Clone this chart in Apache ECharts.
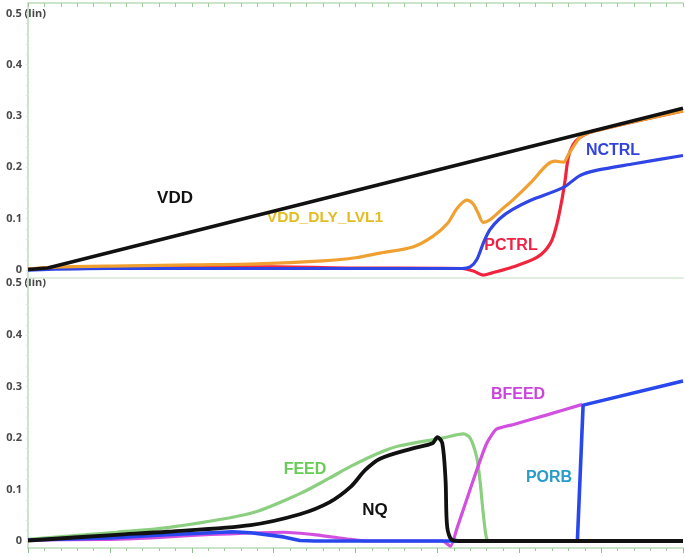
<!DOCTYPE html>
<html>
<head>
<meta charset="utf-8">
<script src="https://cdn.jsdelivr.net/npm/echarts@6/dist/echarts.min.js"></script>
<style>html,body{margin:0;padding:0;background:#fff;}#c{width:685px;height:557px;}</style>
</head>
<body>
<div id="c"></div>
<script>
// ---- data (x in time units 0..40, y in volts) ----
const yTickValues = [0, 0.1, 0.2, 0.3, 0.4, 0.5];
const yMinorTickValues = [0,0.02,0.04,0.06,0.08,0.1,0.12,0.14,0.16,0.18,0.2,0.22,0.24,0.26,0.28,0.3,0.32,0.34,0.36,0.38,0.4,0.42,0.44,0.46,0.48,0.5];

// top panel
const vdd = [[0,0.001],[1.2,0.004],[40,0.315]];
const vddDlyLvl1 = [[0,0.002],[2,0.006],[6,0.008],[10,0.01],[14,0.012],[18,0.018],[20,0.024],[21.5,0.033],[23.5,0.045],[24.7,0.065],[25.6,0.09],[26.2,0.12],[26.8,0.136],[27.2,0.128],[27.5,0.11],[27.8,0.093],[28.3,0.1],[29.0,0.12],[29.6,0.136],[30.7,0.17],[31.7,0.205],[32.2,0.212],[32.7,0.21],[33.0,0.225],[33.3,0.24],[33.7,0.258],[34.2,0.267],[35,0.274],[37,0.289],[40,0.31]];
const nctrl = [[0,0.0],[5,0.003],[20,0.003],[26.5,0.003],[27,0.006],[27.4,0.02],[27.8,0.052],[28.2,0.078],[28.8,0.1],[29.6,0.118],[30.7,0.136],[32.7,0.161],[33.7,0.184],[34.7,0.194],[37,0.207],[40,0.223]];
const pctrl = [[0,0.002],[5,0.006],[15,0.006],[20,0.004],[26.5,0.003],[27.2,-0.002],[27.8,-0.01],[28.3,-0.006],[29.6,0.006],[31.1,0.025],[31.9,0.052],[32.3,0.09],[32.6,0.136],[32.8,0.175],[33.0,0.22],[33.3,0.245],[33.7,0.258],[34.2,0.267],[35,0.274],[37,0.289],[40,0.31]];

// bottom panel
const feed = [[0,0.003],[5.4,0.017],[8.5,0.026],[13.6,0.054],[16.6,0.092],[18.4,0.122],[19.7,0.145],[21.5,0.172],[22.7,0.185],[25.3,0.2],[26.6,0.208],[27.0,0.2],[27.4,0.163],[27.6,0.118],[27.8,0.054],[28.0,0.006],[28.2,0],[40,0]];
const nq = [[0,0.001],[5.4,0.012],[8.5,0.018],[13.6,0.031],[16.6,0.052],[18.4,0.075],[19.7,0.105],[20.6,0.138],[21.5,0.16],[23.5,0.18],[24.7,0.19],[25.0,0.202],[25.3,0.19],[25.5,0.118],[25.6,0.027],[25.9,0.002],[26.5,0],[40,0]];
const bfeed = [[0,0.002],[5,0.003],[7.5,0.006],[10,0.011],[12.3,0.014],[15.6,0.017],[17.6,0.012],[19.7,0.003],[20.7,0],[25.3,0],[25.8,-0.01],[26.2,0.025],[27.2,0.119],[28.0,0.189],[28.6,0.217],[29.6,0.226],[31.7,0.245],[33.7,0.264],[33.85,0.265]];
const porb = [[0,0.002],[5,0.006],[8.5,0.012],[12.5,0.018],[13.6,0.016],[15.6,0.008],[16.6,0.001],[17.5,0],[33.55,0],[33.9,0.264],[40,0.311]];

const AXIS_GREEN = '#b9ddb9';
const tickFont = {fontFamily:'Open Sans', fontSize:11, fontWeight:'bold', color:'#484848'};

function yAxisCfg(gi, min, max){
  return {
    type:'value', gridIndex:gi, min:min, max:max, position:'left',
    axisLine:{show:true, onZero:false, lineStyle:{color:AXIS_GREEN, width:1.5}},
    axisTick:{show:true, customValues:yMinorTickValues, length:2, lineStyle:{color:'#cfe6cf'}},
    axisLabel:Object.assign({show:true, customValues:yTickValues, margin:6,
      formatter:v => (v >= 0.5 ? '' : (v===0 ? '0' : v.toFixed(1)))}, tickFont),
    splitLine:{show:false}
  };
}

const LW = 3.2;
function line(name, data, color, xi, width, smooth){
  return {name:name, type:'line', xAxisIndex:xi, yAxisIndex:xi, data:data, showSymbol:false,
    smooth:(smooth===undefined ? 0.3 : smooth), lineStyle:{color:color, width:width||LW}, itemStyle:{color:color}, animation:false};
}

const chart = echarts.init(document.getElementById('c'), null, {renderer:'canvas'});
chart.setOption({
  backgroundColor:'#fff',
  animation:false,
  grid:[
    {left:28, right:2, top:3, height:275},
    {left:28, right:2, top:278, height:270}
  ],
  xAxis:[
    {type:'value', gridIndex:0, min:0, max:40, interval:1, position:'top',
      axisLine:{show:true, onZero:false, lineStyle:{color:AXIS_GREEN, width:1.5}},
      axisTick:{show:true, inside:true, length:4, lineStyle:{color:'#9ec79e'}},
      axisLabel:{show:false}, splitLine:{show:false}},
    {type:'value', gridIndex:1, min:0, max:40, interval:5, position:'bottom',
      axisLine:{show:true, onZero:false, lineStyle:{color:AXIS_GREEN, width:1.5}},
      axisTick:{show:true, length:5, lineStyle:{color:'#8fbf8f'}},
      minorTick:{show:true, splitNumber:5, length:3, lineStyle:{color:'#9ec79e'}},
      axisLabel:{show:false}, splitLine:{show:false}},
    {type:'value', gridIndex:0, min:0, max:40, position:'bottom',
      axisLine:{show:true, onZero:false, lineStyle:{color:'#d6e9d6', width:1.5}},
      axisTick:{show:false}, axisLabel:{show:false}, splitLine:{show:false}}
  ],
  yAxis:[ yAxisCfg(0, -0.0155, 0.52), yAxisCfg(1, -0.0136, 0.511) ],
  series:[
    line('PCTRL', pctrl, '#f0243c', 0),
    line('NCTRL', nctrl, '#2f45e6', 0),
    line('VDD_DLY_LVL1', vddDlyLvl1, '#f0a030', 0),
    line('VDD', vdd, '#111111', 0, 3.6, false),
    line('FEED', feed, '#8ccf80', 1),
    line('BFEED', bfeed, '#d24fe0', 1, LW, 0.2),
    line('PORB', porb, '#2848ee', 1, 3.6, false),
    line('NQ', nq, '#111111', 1, 3.8)
  ],
  graphic:[
    {type:'text', left:6, top:8, style:{text:'0.5 (lin)', font:'bold 11px "Open Sans"', fill:'#484848'}},
    {type:'text', left:6, top:277, style:{text:'0.5 (lin)', font:'bold 11px "Open Sans"', fill:'#484848'}},
    {type:'text', x:175, y:198, style:{text:'VDD', font:'bold 17px "Liberation Sans"', fill:'#111', align:'center', verticalAlign:'middle'}},
    {type:'text', x:325, y:218, style:{text:'VDD_DLY_LVL1', font:'bold 15.5px "Liberation Sans"', fill:'#e2bd22', align:'center', verticalAlign:'middle'}},
    {type:'text', x:511, y:246, style:{text:'PCTRL', font:'bold 16px "Liberation Sans"', fill:'#ee2244', align:'center', verticalAlign:'middle'}},
    {type:'text', x:613, y:151, style:{text:'NCTRL', font:'bold 16px "Liberation Sans"', fill:'#3344dd', align:'center', verticalAlign:'middle'}},
    {type:'text', x:305, y:470, style:{text:'FEED', font:'bold 16px "Liberation Sans"', fill:'#66cc55', align:'center', verticalAlign:'middle'}},
    {type:'text', x:375, y:510, style:{text:'NQ', font:'bold 17px "Liberation Sans"', fill:'#111', align:'center', verticalAlign:'middle'}},
    {type:'text', x:518, y:395, style:{text:'BFEED', font:'bold 16px "Liberation Sans"', fill:'#cc44dd', align:'center', verticalAlign:'middle'}},
    {type:'text', x:549, y:478, style:{text:'PORB', font:'bold 16px "Liberation Sans"', fill:'#2a9ccc', align:'center', verticalAlign:'middle'}}
  ]
});
</script>
</body>
</html>
